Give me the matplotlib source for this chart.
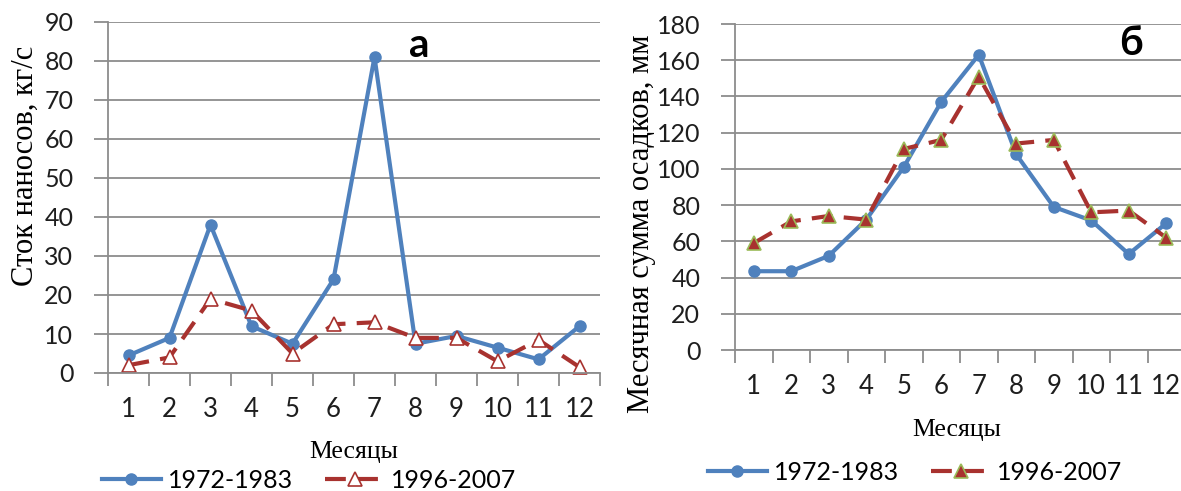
import matplotlib
matplotlib.use("Agg")
import matplotlib.pyplot as plt
from matplotlib.ticker import FixedLocator, NullFormatter

# monthly values
months = list(range(1, 13))
month_labels = [str(m) for m in months]
periods = ["1972-1983", "1996-2007"]

sediment_old = [4.5, 9.0, 38.0, 12.0, 7.5, 24.0, 81.0, 7.5, 9.5, 6.5, 3.5, 12.0]
sediment_new = [2.0, 4.0, 19.0, 16.0, 5.0, 12.5, 13.0, 9.0, 9.0, 3.0, 8.5, 1.5]

precip_old = [43.5, 43.5, 52.0, 72.0, 101.0, 137.0, 163.0, 108.0, 79.0, 71.5, 53.0, 70.0]
precip_new = [59.0, 71.0, 74.0, 72.0, 111.0, 116.0, 151.0, 114.0, 116.0, 76.0, 77.0, 62.0]

BLUE = "#4F81BD"
RED = "#A8322F"
GRID = "#8C8C8C"
SERIF = "Liberation Serif"
SANS = "Lato"

W, H = 1181, 491
fig = plt.figure(figsize=(W / 100, H / 100), dpi=100)


def px_axes(x0, x1, y_top, y_bottom):
    return fig.add_axes([x0 / W, 1 - y_bottom / H, (x1 - x0) / W, (y_bottom - y_top) / H])


def style_axes(ax, ymax, ystep):
    ax.set_xlim(0.5, 12.5)
    ax.set_ylim(0, ymax)
    ax.set_yticks(range(0, ymax + 1, ystep))
    ax.xaxis.set_major_locator(FixedLocator([m + 0.5 for m in range(0, 13)]))
    ax.xaxis.set_major_formatter(NullFormatter())
    ax.xaxis.set_minor_locator(FixedLocator(months))
    ax.set_xticklabels(month_labels, minor=True)
    ax.tick_params(axis="x", which="major", length=9, width=1.3, color=GRID, direction="out")
    ax.tick_params(axis="x", which="minor", length=0, pad=17, labelsize=18.5)
    ax.tick_params(axis="y", length=10, width=1.3, color=GRID, pad=15, labelsize=18)
    for lab in ax.get_xticklabels(minor=True) + ax.get_yticklabels():
        lab.set_fontfamily(SANS)
        lab.set_color("#1e1e1e")
    ax.grid(axis="y", color=GRID, lw=1.3)
    ax.set_axisbelow(True)
    for s in ("top", "right"):
        ax.spines[s].set_visible(False)
    for s in ("left", "bottom"):
        ax.spines[s].set_color(GRID)
        ax.spines[s].set_linewidth(1.3)


def add_legend(ax, x, y):
    handles, labels = ax.get_legend_handles_labels()
    fig.legend(handles, labels, loc="center left", bbox_to_anchor=(x / W, 1 - y / H),
               ncol=2, frameon=False, prop={"family": SANS, "size": 18},
               handlelength=2.35, handletextpad=0.28, columnspacing=1.3,
               borderpad=0, borderaxespad=0)


# sediment discharge
ax1 = px_axes(108, 600, 22, 373)
style_axes(ax1, 90, 10)
ax1.plot(months, sediment_old, color=BLUE, lw=3, marker="o", ms=8, label=periods[0], clip_on=False)
ax1.plot(months, sediment_new, color=RED, lw=3, dashes=(5, 2.7), marker="^", ms=9.5,
         mfc="white", mec=RED, mew=1.2, label=periods[1], clip_on=False)
ax1.set_ylabel("Сток наносов, кг/с", fontfamily=SERIF, fontsize=22, va="center")
ax1.yaxis.set_label_coords((25 - 108) / 492, (373 - 166) / 351)
ax1.set_xlabel("Месяцы", fontfamily=SERIF, fontsize=18.5, va="center")
ax1.xaxis.set_label_coords((354 - 108) / 492, -(452 - 373) / 351)
ax1.text(8.1, 84, "а", fontfamily=SANS, fontweight="bold", fontsize=29, ha="center", va="center")
add_legend(ax1, 102, 480)

# monthly precipitation
ax2 = px_axes(735, 1185, 24, 350)
style_axes(ax2, 180, 20)
ax2.plot(months, precip_old, color=BLUE, lw=3, marker="o", ms=8, label=periods[0], clip_on=False)
ax2.plot(months, precip_new, color=RED, lw=3, dashes=(5, 2.7), marker="^", ms=9.5,
         mfc=RED, mec="#9BBB59", mew=1.2, label=periods[1], clip_on=False)
ax2.set_ylabel("Месячная сумма осадков, мм", fontfamily=SERIF, fontsize=22, va="center")
ax2.yaxis.set_label_coords((642 - 735) / 450, (350 - 224) / 326)
ax2.set_xlabel("Месяцы", fontfamily=SERIF, fontsize=18.5, va="center")
ax2.xaxis.set_label_coords((957 - 735) / 450, -(430 - 350) / 326)
ax2.text(11.05, 169, "б", fontfamily=SANS, fontweight="bold", fontsize=29, ha="center", va="center")
add_legend(ax2, 708, 472)

fig.savefig("out.png", dpi=100)
